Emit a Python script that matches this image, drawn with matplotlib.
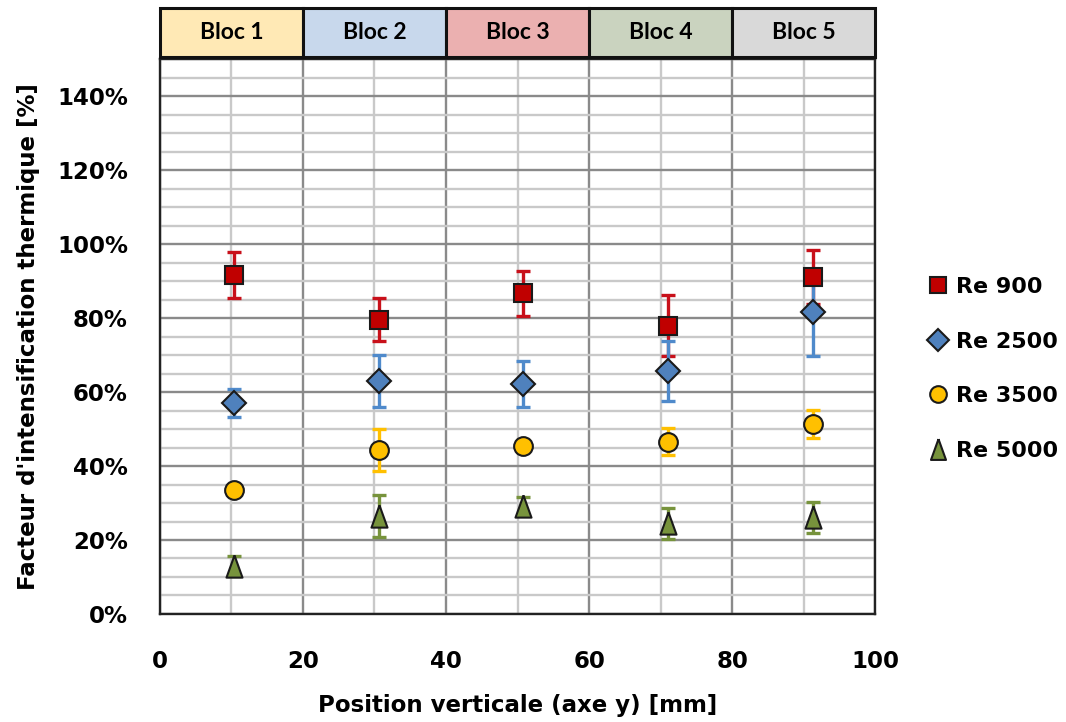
import matplotlib
matplotlib.use("Agg")
import matplotlib.pyplot as plt
from matplotlib.patches import Rectangle
from matplotlib.ticker import PercentFormatter, MultipleLocator
from matplotlib.font_manager import FontProperties

# ---- data ----
x_pos = [10.3, 30.6, 50.8, 71.0, 91.3]
series_labels = ["Re 900", "Re 2500", "Re 3500", "Re 5000"]
re900 = [91.6, 79.6, 86.7, 77.9, 91.2]
re900_err = [6.2, 5.7, 6.1, 8.2, 7.3]
re2500 = [57.1, 63.0, 62.1, 65.7, 81.5]
re2500_err = [3.8, 7.0, 6.2, 8.2, 11.8]
re3500 = [33.5, 44.3, 45.4, 46.6, 51.4]
re3500_err = [1.0, 5.7, 1.5, 3.6, 3.8]
re5000 = [13.0, 26.5, 29.2, 24.5, 26.1]
re5000_err = [2.7, 5.7, 2.5, 4.2, 4.2]

bloc_names = ["Bloc 1", "Bloc 2", "Bloc 3", "Bloc 4", "Bloc 5"]
bloc_edges = [0, 20, 40, 60, 80, 100]
bloc_colors = ["#FFE9B5", "#C8D8EC", "#EBB0B0", "#CAD3BF", "#D9D9D9"]

values = [re900, re2500, re3500, re5000]
errors = [re900_err, re2500_err, re3500_err, re5000_err]
face_colors = ["#C00000", "#4F81BD", "#FFC000", "#77933C"]
err_colors = ["#C8101A", "#4F8ACB", "#FFC000", "#77933C"]
tri = [(0, 1), (-0.72, -1), (0.72, -1), (0, 1)]
markers = ["s", "D", "o", tri]
msizes = [13.5, 12, 13.5, 16]
leg_sizes = [12, 11, 12, 15]

fig = plt.figure(figsize=(10.66, 7.22), dpi=100)
ax = fig.add_axes([0.150, 0.1496, 0.671, 0.7686])

# grid
ax.set_xlim(0, 100)
ax.set_ylim(0, 150)
ax.xaxis.set_major_locator(MultipleLocator(20))
ax.xaxis.set_minor_locator(MultipleLocator(10))
ax.yaxis.set_major_locator(MultipleLocator(20))
ax.yaxis.set_minor_locator(MultipleLocator(5))
ax.grid(which="major", color="#8A8A8A", lw=1.7, zorder=0)
ax.grid(which="minor", color="#C9C9C9", lw=1.7, zorder=0)
ax.set_axisbelow(True)
ax.tick_params(which="both", length=0)
ax.yaxis.set_major_formatter(PercentFormatter(100, decimals=0))
for s in ax.spines.values():
    s.set_color("#222222")
    s.set_linewidth(1.7)

# error bars first
for v, e, c in zip(values, errors, err_colors):
    ax.errorbar(x_pos, v, yerr=e, fmt="none", ecolor=c, elinewidth=2.4,
                capsize=5, capthick=2.4, zorder=3)

handles = []
for v, c, m, ms, lab in zip(values, face_colors, markers, msizes, series_labels):
    h, = ax.plot(x_pos, v, linestyle="none", marker=m, markersize=ms,
                 markerfacecolor=c, markeredgecolor="#1a1a1a",
                 markeredgewidth=1.5, zorder=4, label=lab)
    handles.append(h)

tick_fp = FontProperties(family="DejaVu Sans", weight="bold", size=16.5)
for lbl in ax.get_xticklabels() + ax.get_yticklabels():
    lbl.set_fontproperties(tick_fp)
ax.tick_params(axis="x", pad=26)
ax.tick_params(axis="y", pad=23)

ax.set_xlabel("Position verticale (axe y) [mm]", family="DejaVu Sans",
              weight="bold", size=16.5, labelpad=15)
ax.set_ylabel("Facteur d'intensification thermique [%]", family="DejaVu Sans",
              weight="bold", size=16.5, labelpad=12)

# header blocks
hdr = fig.add_axes([0.150, 0.921, 0.671, 0.068])
hdr.set_xlim(0, 100)
hdr.set_ylim(0, 1)
hdr.axis("off")
for i, name in enumerate(bloc_names):
    x0, x1 = bloc_edges[i], bloc_edges[i + 1]
    hdr.add_patch(Rectangle((x0, 0), x1 - x0, 1, facecolor=bloc_colors[i],
                            edgecolor="#111111", lw=2.2, clip_on=False))
    hdr.text((x0 + x1) / 2, 0.5, name, ha="center", va="center",
             family="Lato", weight="bold", size=16.5)

leg = fig.legend(handles=handles, loc="center left",
                 bbox_to_anchor=(0.859, 0.489), frameon=False,
                 prop=dict(family="DejaVu Sans", weight="bold", size=16),
                 labelspacing=1.55, handletextpad=0.3, handlelength=1.0,
                 borderpad=0)
for h, s in zip(leg.legend_handles, leg_sizes):
    h.set_markersize(s)

fig.savefig("out.png", dpi=100)
